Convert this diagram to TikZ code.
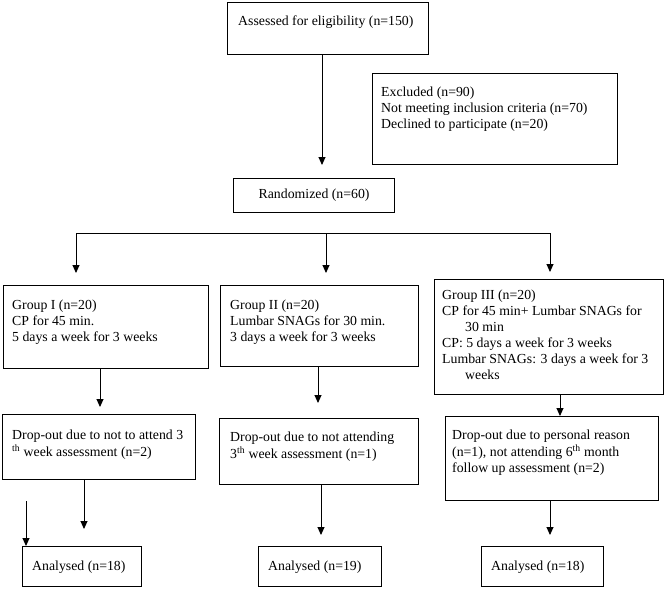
\documentclass[tikz,border=0pt]{standalone}
\usepackage{fontspec}
\setmainfont{Liberation Serif}
\usetikzlibrary{arrows.meta}
\begin{document}
\begin{tikzpicture}[x=1pt,y=-1pt,
  box/.style={draw, line width=1.2pt, inner sep=0pt, anchor=north west},
  txt/.style={inner sep=0pt, anchor=base west, font=\fontsize{13.8}{16}\selectfont},
  arr/.style={line width=0.9pt, -{Triangle[length=8pt,width=7pt]}},
  ln/.style={line width=0.9pt}]
\useasboundingbox (0,0) rectangle (665,589);

% top
\node[box, minimum width=201pt, minimum height=52pt] (assess) at (227,2) {};
\node[txt] (assesst) at (238,25.5) {Assessed for eligibility (n=150)};

\node[box, minimum width=245pt, minimum height=91pt] (excl) at (372,73) {};
\node[txt] (exclt) at (381,96.5) {\begin{tabular}[t]{@{}l@{}}Excluded (n=90)\\ Not meeting inclusion criteria (n=70)\\ Declined to participate (n=20)\end{tabular}};

\node[box, minimum width=161pt, minimum height=34pt, font=\fontsize{13.8}{16}\selectfont] (rand) at (233,178) {Randomized (n=60)};

\coordinate (a0) at (322,165);
\draw[arr] (assess.south -| a0) -- (a0);

% split line
\coordinate (hl) at (76,233);
\coordinate (hm) at (326,233);
\coordinate (hr) at (550,233);
\coordinate (t1) at (76,273);
\coordinate (t2) at (326,273);
\coordinate (t3) at (550,272);
\draw[ln] (hl) -- (hr);
\draw[arr] (hl) -- (t1);
\draw[arr] (hm) -- (t2);
\draw[arr] (hr) -- (t3);

% groups
\node[box, minimum width=205pt, minimum height=83pt] (g1) at (3,285) {};
\node[txt] (g1t) at (12,309.5) {\begin{tabular}[t]{@{}l@{}}Group I (n=20)\\ CP for 45 min.\\ 5 days a week for 3 weeks\end{tabular}};

\node[box, minimum width=198pt, minimum height=81pt] (g2) at (220,285) {};
\node[txt] (g2t) at (230,309.5) {\begin{tabular}[t]{@{}l@{}}Group II (n=20)\\ Lumbar SNAGs for 30 min.\\ 3 days a week for 3 weeks\end{tabular}};

\node[box, minimum width=229pt, minimum height=115pt] (g3) at (434,279) {};
\node[txt] (g3t) at (442,299.5) {\begin{tabular}[t]{@{}l@{}}Group III (n=20)\\ CP for 45 min+ Lumbar SNAGs for\\ \hspace*{23pt}30 min\\ CP: 5 days a week for 3 weeks\\ Lumbar SNAGs: 3 days a week for 3\\ \hspace*{23pt}weeks\end{tabular}};

% group -> dropout
\coordinate (b1) at (100,407);
\coordinate (b2) at (318,403);
\coordinate (b3) at (560,416);
\draw[arr] (g1.south -| b1) -- (b1);
\draw[arr] (g2.south -| b2) -- (b2);
\draw[arr] (g3.south -| b3) -- (b3);

% dropouts
\node[box, minimum width=193pt, minimum height=65pt] (d1) at (2,414) {};
\node[txt] (d1t) at (12,439.5) {\begin{tabular}[t]{@{}l@{}}Drop-out due to not to attend 3\\ \textsuperscript{th} week assessment (n=2)\end{tabular}};

\node[box, minimum width=199pt, minimum height=66pt] (d2) at (219,418) {};
\node[txt] (d2t) at (230,441.5) {\begin{tabular}[t]{@{}l@{}}Drop-out due to not attending\\ 3\textsuperscript{th} week assessment (n=1)\end{tabular}};

\node[box, minimum width=213pt, minimum height=84pt] (d3) at (445,416) {};
\node[txt] (d3t) at (452,439.5) {\begin{tabular}[t]{@{}l@{}}Drop-out due to personal reason\\ (n=1), not attending 6\textsuperscript{th} month\\ follow up assessment (n=2)\end{tabular}};

% dropout -> analysed
\coordinate (c1) at (84,529);
\coordinate (c2) at (321,535);
\coordinate (c3) at (550,535);
\draw[arr] (d1.south -| c1) -- (c1);
\draw[arr] (d2.south -| c2) -- (c2);
\draw[arr] (d3.south -| c3) -- (c3);

% analysed
\node[box, minimum width=119pt, minimum height=40pt] (an1) at (22,546) {};
\node[txt] (an1t) at (32,570.5) {Analysed (n=18)};
\node[box, minimum width=123pt, minimum height=40pt] (an2) at (258,546) {};
\node[txt] (an2t) at (268,570.5) {Analysed (n=19)};
\node[box, minimum width=122pt, minimum height=40pt] (an3) at (481,546) {};
\node[txt] (an3t) at (491,570.5) {Analysed (n=18)};

% stray arrow
\coordinate (s0) at (26,501);
\draw[arr] (s0) -- (an1.north -| s0);
\end{tikzpicture}
\end{document}
